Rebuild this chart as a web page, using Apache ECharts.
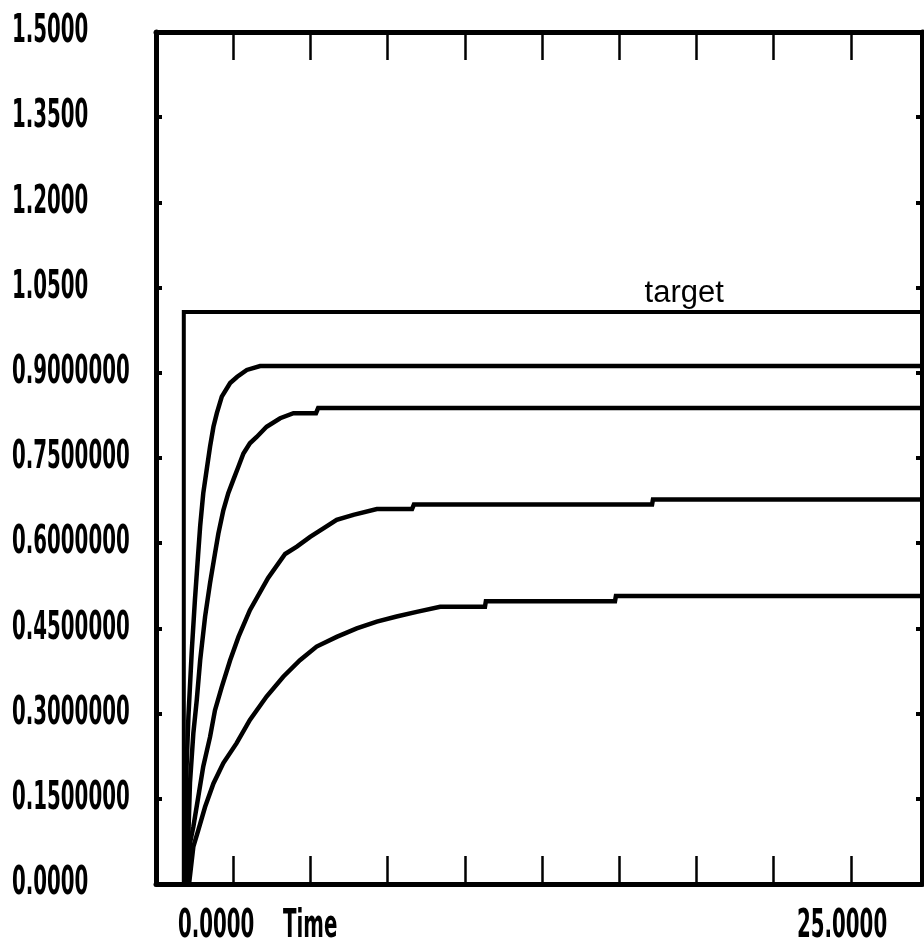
<!DOCTYPE html>
<html>
<head>
<meta charset="utf-8">
<script src="https://cdn.jsdelivr.net/npm/echarts@6/dist/echarts.min.js"></script>
<style>
html,body{margin:0;padding:0;background:#fff;}
#chart{width:924px;height:951px;}
</style>
</head>
<body>
<div id="chart"></div>
<script>
// ---- data ----
const yTickLabels = ['0.0000','0.1500000','0.3000000','0.4500000','0.6000000','0.7500000','0.9000000','1.0500','1.2000','1.3500','1.5000'];
const xEndLabels = ['0.0000', '25.0000'];
const xTitle = 'Time';

const targetT = [0, 0.9, 0.9, 17.1, 24.8];
const targetV = [0, 0, 1.007, 1.007, 1.007];
const targetLabel = 'target';
const targetLabelT = 17.1;

const curve1T = [0.94, 0.99, 1.05, 1.16, 1.26, 1.36, 1.43, 1.53, 1.64, 1.75, 1.86, 1.97, 2.13, 2.40, 2.63, 2.94, 3.37, 24.8];
const curve1V = [0, 0.207, 0.295, 0.412, 0.500, 0.577, 0.630, 0.688, 0.729, 0.770, 0.805, 0.829, 0.858, 0.882, 0.893, 0.905, 0.912, 0.912];

const curve2T = [1.00, 1.05, 1.10, 1.21, 1.32, 1.43, 1.59, 1.75, 1.91, 2.02, 2.18, 2.34, 2.50, 2.67, 2.83, 3.04, 3.26, 3.58, 4.02, 4.45, 5.18, 5.25, 24.8];
const curve2V = [0, 0.090, 0.178, 0.266, 0.324, 0.394, 0.471, 0.530, 0.582, 0.617, 0.658, 0.688, 0.711, 0.735, 0.758, 0.776, 0.787, 0.805, 0.820, 0.829, 0.829, 0.838, 0.838];

const curve3T = [1.04, 1.10, 1.21, 1.37, 1.53, 1.75, 1.91, 2.13, 2.40, 2.67, 3.04, 3.63, 4.18, 4.56, 4.99, 5.42, 5.85, 6.39, 7.15, 8.29, 8.35, 16.06, 16.09, 24.8];
const curve3V = [0, 0.072, 0.101, 0.154, 0.207, 0.259, 0.306, 0.347, 0.394, 0.435, 0.482, 0.539, 0.581, 0.594, 0.611, 0.626, 0.641, 0.650, 0.660, 0.660, 0.668, 0.668, 0.677, 0.677];

const curve4T = [1.07, 1.21, 1.37, 1.59, 1.86, 2.18, 2.61, 3.04, 3.58, 4.12, 4.66, 5.20, 5.85, 6.50, 7.15, 7.79, 8.44, 9.20, 10.65, 10.68, 14.86, 14.89, 24.8];
const curve4V = [0, 0.066, 0.095, 0.136, 0.177, 0.213, 0.248, 0.289, 0.330, 0.365, 0.394, 0.418, 0.435, 0.450, 0.462, 0.471, 0.479, 0.488, 0.488, 0.498, 0.498, 0.507, 0.507];

// ---- axis ranges ----
const X_MIN = 0, X_MAX = 24.8, X_STEP = 2.5;
const Y_MIN = 0, Y_MAX = 1.5, Y_STEP = 0.15;

// ---- build ----
const zip = (t, v) => t.map((x, i) => [x, v[i]]);
const blockFont = 'bold 22px "DejaVu Sans Condensed", "DejaVu Sans", sans-serif';
const STRETCH_Y = 1.8;

const chart = echarts.init(document.getElementById('chart'), null, {renderer: 'canvas'});

function lineSeries(name, t, v, extra) {
  return Object.assign({
    name: name,
    type: 'line',
    data: zip(t, v),
    showSymbol: false,
    symbol: 'none',
    smooth: false,
    animation: false,
    lineStyle: {color: '#000', width: 4.5, cap: 'square', join: 'miter'},
    itemStyle: {color: '#000'},
    z: 3
  }, extra || {});
}

const axisBase = {
  type: 'value',
  axisLine: {show: true, onZero: false, lineStyle: {color: '#000', width: 5}},
  splitLine: {show: false},
  axisLabel: {show: false}
};

const option = {
  backgroundColor: '#fff',
  animation: false,
  grid: {left: 156, right: 2, top: 32, bottom: 67, containLabel: false},
  xAxis: [
    Object.assign({}, axisBase, {
      position: 'bottom', min: X_MIN, max: X_MAX, interval: X_STEP,
      axisTick: {show: true, inside: true, length: 28, lineStyle: {color: '#000', width: 2.5}}
    }),
    Object.assign({}, axisBase, {
      position: 'top', min: X_MIN, max: X_MAX, interval: X_STEP,
      axisTick: {show: true, inside: true, length: 28, lineStyle: {color: '#000', width: 2.5}}
    })
  ],
  yAxis: [
    Object.assign({}, axisBase, {
      position: 'left', min: Y_MIN, max: Y_MAX, interval: Y_STEP,
      axisTick: {show: true, inside: true, length: 6, lineStyle: {color: '#000', width: 4}}
    }),
    Object.assign({}, axisBase, {
      position: 'right', min: Y_MIN, max: Y_MAX, interval: Y_STEP,
      axisTick: {show: true, inside: true, length: 6, lineStyle: {color: '#000', width: 4}}
    })
  ],
  series: [
    lineSeries('target', targetT, targetV, {
      lineStyle: {color: '#000', width: 4, cap: 'square', join: 'miter'},
      markPoint: {
        symbol: 'circle', symbolSize: 0.1,
        itemStyle: {color: 'rgba(0,0,0,0)'},
        label: {
          show: true, position: 'top', distance: 3,
          formatter: targetLabel,
          fontFamily: '"Liberation Sans", Arial, Helvetica, sans-serif',
          fontSize: 31, color: '#000'
        },
        data: [{coord: [targetLabelT, targetV[targetV.length - 1]]}]
      }
    }),
    lineSeries('curve1', curve1T, curve1V),
    lineSeries('curve2', curve2T, curve2V),
    lineSeries('curve3', curve3T, curve3V),
    lineSeries('curve4', curve4T, curve4V)
  ]
};

chart.setOption(option);

// Tick labels of the y axis, placed at the axis' own tick positions,
// drawn as stretched block text like the original plotter font.
function blockText(x, y, text) {
  return {
    type: 'text', x: x, y: y, scaleX: 1, scaleY: STRETCH_Y,
    silent: true,
    style: {text: text, x: 0, y: 0, font: blockFont, fill: '#000', align: 'left', verticalAlign: 'middle'}
  };
}
const graphics = [];
yTickLabels.forEach(function (lab, i) {
  const v = Y_MIN + i * Y_STEP;
  const py = chart.convertToPixel({yAxisIndex: 0}, v);
  graphics.push(blockText(12, py, lab));
});
const labelRowY = 927;
graphics.push(blockText(178, labelRowY, xEndLabels[0]));
graphics.push(blockText(283, labelRowY, xTitle));
graphics.push(blockText(797, labelRowY, xEndLabels[1]));
chart.setOption({graphic: graphics});
</script>
</body>
</html>
